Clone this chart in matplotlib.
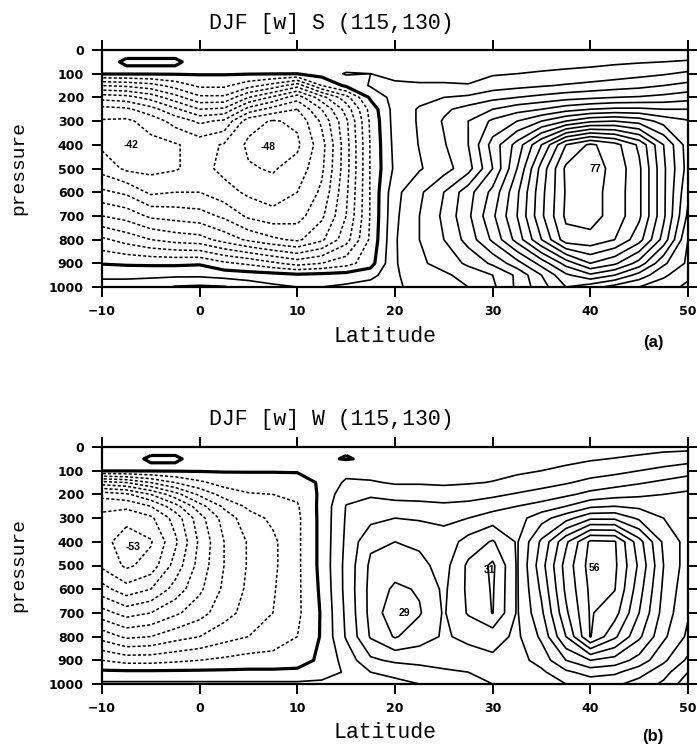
import numpy as np
import matplotlib.pyplot as plt

plt.rcParams['lines.dashed_pattern'] = [2.0, 1.4]

lats = [-10, -7.5, -5, -2.5, 0, 2.5, 5, 7.5, 10, 12.5, 15, 17.5, 20, 22.5,
        25, 27.5, 30, 32.5, 35, 37.5, 40, 42.5, 45, 47.5, 50]
pres = [0, 50, 100, 150, 200, 250, 300, 400, 500, 600, 700, 800, 900, 950, 1000]

# DJF [w] S: one list per latitude, values from 0 hPa down to 1000 hPa
w_s = [
    [0.5, 0.5, 0.4, -15, -28, -37, -40.5, -41, -37, -29, -20, -9, -0.3, 4, 7],
    [0.5, -0.2, 0.4, -14, -27, -36, -41, -42.5, -41, -31, -22, -12, -0.8, 4, 7],
    [0.5, -0.2, 0.4, -12, -23, -32, -38, -41.5, -41.5, -36, -26, -15, -1, 4, 8],
    [0.5, -0.2, 0.4, -8, -17, -26, -33, -40.5, -40.5, -35, -27, -17, -1, 4, 10.5],
    [0.5, 0.5, 0.4, -4, -11, -20, -29, -38, -38, -35, -28, -18, -0.6, 4, 11],
    [0.5, 0.5, 0.4, -4, -11, -21, -31, -40.5, -41.5, -38, -31, -22, -4, 3, 10.5],
    [0.5, 0.5, 0.3, -8, -20, -32, -43, -46, -44.5, -41, -36, -26, -6, 2.5, 8],
    [0.5, 0.5, 0.2, -12, -26, -37, -45.5, -48.5, -45.5, -43, -38, -29, -9, 2, 6],
    [0.5, 0.5, 0.1, -18, -33, -40, -44, -46, -43, -40, -37, -31, -12, 1, 5],
    [0.5, 0.5, 2, -5, -22, -30, -34, -37, -36, -34, -31, -26, -10, 1.5, 5],
    [0.5, 1, 5.5, 1, -12, -18, -21, -22, -22, -21, -20, -17, -7, 2, 6],
    [0.5, 1.5, 5, 5.5, 1, -3, -4, -4.5, -4.5, -4.5, -4.5, -4, -2, 3, 8],
    [0.5, 1.5, 3.5, 6, 7, 7, 7, 6.5, 6, 8.5, 9, 9.5, 9.5, 9.5, 9.5],
    [0.5, 1.5, 3.5, 5.5, 8.5, 10.5, 10.5, 10.2, 9.5, 14, 15, 15, 14, 12, 11],
    [0.5, 2, 3.5, 5.5, 10, 14, 15.5, 14.5, 13, 20, 21, 20, 17, 14, 12],
    [0.5, 2, 3.8, 5.2, 11, 17, 20, 20, 18, 28, 29, 27, 21, 17, 15],
    [1, 2.5, 4.5, 7.5, 13.5, 20, 26, 32, 30, 36.5, 39, 36, 26, 20, 19],
    [1, 3, 5, 8.5, 15, 23, 30, 42, 45, 49, 50, 47, 33, 26, 26],
    [1, 3.2, 5.5, 9.5, 16.5, 25, 35, 55, 62, 63.5, 64, 60, 42, 35, 33],
    [1, 3.5, 6, 10.5, 18, 28, 40, 70, 76, 75.5, 76, 73, 52, 44, 40],
    [1, 3.8, 6.5, 11.5, 19, 30, 44, 76, 77.5, 77, 77, 73.5, 60, 49, 37],
    [1, 4.2, 7.5, 12.5, 20, 31, 45, 72, 73.5, 73, 73, 70, 56, 45, 33],
    [1, 4.6, 8.5, 13.5, 20.5, 31, 43, 64, 66, 66, 66, 62, 48, 38, 30],
    [1, 5, 9.5, 15, 21.5, 30, 38, 50, 51, 51, 51, 48, 36, 31, 27],
    [1, 5.6, 11, 16.5, 23, 30, 35.5, 37.5, 38, 36, 34, 30, 29, 26, 24],
]

# DJF [w] W
w_w = [
    [0.5, 0.5, 0.4, -22, -38, -44, -46, -47.5, -46, -38, -28, -17, -5, 1, 6],
    [0.5, 0.5, 0.4, -20, -36, -44, -48, -53.5, -51, -43, -32, -21, -7, 1, 6],
    [0.5, -0.2, 0.4, -15, -30, -40, -46, -50.5, -48, -40, -30, -20, -7, 1, 6],
    [0.5, -0.2, 0.4, -10, -22, -32, -38, -41, -38, -33, -26, -17, -6, 1, 6],
    [0.5, 0.5, 0.4, -6, -14, -22, -27, -29, -28, -26, -22, -15, -5, 1, 6],
    [0.5, 0.5, 0.4, -3, -8, -14, -18, -20, -20, -19, -17, -12, -4, 1, 6],
    [0.5, 0.5, 0.3, -2, -5.5, -9, -12, -14.5, -14.5, -14, -13, -10, -3, 1, 6],
    [0.5, 0.5, 0.3, -2, -5, -7.5, -9, -11, -11, -10.5, -10, -8, -3, 1, 6],
    [0.5, 0.5, 0.3, -1.5, -4, -5.5, -6, -6, -6, -6, -6, -5, -2, 1, 6],
    [0.5, 0.5, 0.5, 0.5, 1, 1.5, 1.5, 1.5, 1.5, 1, 0.5, 0.5, 1, 3, 6],
    [0.5, -0.2, 3, 6, 8.5, 10.2, 10.5, 11, 11.5, 11.5, 11, 10.5, 7, 5.5, 6],
    [0.5, 0.5, 3, 5.5, 9.5, 11.5, 13.5, 19, 21, 21.5, 21.5, 20.5, 14, 10, 8],
    [0.5, 1, 3, 4.5, 8, 12, 15, 20, 22.5, 26, 28.8, 25.5, 16, 11, 9],
    [0.5, 1, 3, 4.5, 8, 11.5, 14.5, 19, 21.5, 24.5, 25.5, 22, 17, 12, 10],
    [0.5, 1.5, 3, 4.2, 7.5, 11, 14, 17, 18, 19, 19.5, 19.5, 17.5, 14, 11],
    [0.5, 1.5, 3.2, 4.6, 8, 11.5, 15, 22, 26, 26, 25.5, 21, 18, 15, 12],
    [0.5, 2, 3.5, 5.2, 9, 13, 17.5, 25.5, 31, 30.5, 30.2, 22, 19, 17, 15],
    [1, 2.5, 4.2, 6.5, 10.5, 15, 18, 19.5, 19.5, 19.5, 19.5, 19, 18, 17, 16],
    [1, 3, 5, 8, 12, 17, 23, 31, 33, 31, 29, 26, 22, 19, 17],
    [1.5, 3.8, 6, 9.5, 14, 20, 28, 44, 47, 46, 44, 40, 30, 24, 20],
    [2, 4.5, 7.5, 11.5, 16.5, 24, 34, 56, 57, 56, 55.5, 55.3, 35, 27, 22],
    [2.5, 5.2, 8.5, 13, 18, 25, 34, 55.5, 56, 55.2, 52, 46, 33, 26, 21],
    [3, 6, 10, 14.5, 19, 24, 29, 42, 44, 42, 40, 36, 28, 22, 18],
    [3.5, 7, 11.5, 16, 20, 23, 25, 29, 30, 29, 28, 26, 21, 17, 14],
    [3.5, 8, 13, 17.5, 21, 22.5, 23, 23, 22.5, 21.5, 20.5, 19, 14, 10, 7],
]

neg_levels = list(range(-50, 0, 5))
pos_levels = list(range(5, 80, 5))

# extreme values written on the maps
marks_s = ["-42", "-48", "77"]
marks_s_lat = [-7, 7, 40.5]
marks_s_p = [400, 410, 500]
marks_w = ["-53", "29", "31", "56"]
marks_w_lat = [-6.8, 21, 29.7, 40.4]
marks_w_p = [420, 700, 520, 510]

W, H = 697, 748
fig = plt.figure(figsize=(W / 100, H / 100), dpi=100)

tick_font = {'family': 'DejaVu Sans', 'weight': 'bold', 'size': 9}
mono = 'Liberation Mono'


def draw_panel(ax, cols, labels, mlat, mp):
    field = np.array(cols).T
    X, Y = np.meshgrid(lats, pres)
    ax.contour(X, Y, field, levels=neg_levels, colors='k',
               linewidths=1.1, linestyles='dashed')
    ax.contour(X, Y, field, levels=[0], colors='k', linewidths=2.3)
    ax.contour(X, Y, field, levels=pos_levels, colors='k', linewidths=1.2)
    for t, x, y in zip(labels, mlat, mp):
        ax.text(x, y, t, ha='center', va='center', fontsize=7.5,
                fontweight='bold', family='Liberation Sans')
    ax.set_xlim(-10, 50)
    ax.set_ylim(1000, 0)
    ax.set_xticks(range(-10, 51, 10))
    ax.set_yticks(range(0, 1001, 100))
    ax.tick_params(direction='out', length=7, width=1.4, top=True, right=True,
                   labeltop=False, labelright=False, pad=6)
    for lab in ax.get_xticklabels() + ax.get_yticklabels():
        lab.set_fontproperties(tick_font)
    for s in ax.spines.values():
        s.set_linewidth(1.6)


ax_a = fig.add_axes([102 / W, 1 - 287 / H, 586 / W, 237 / H])
draw_panel(ax_a, w_s, marks_s, marks_s_lat, marks_s_p)
ax_b = fig.add_axes([102 / W, 1 - 684 / H, 586 / W, 237 / H])
draw_panel(ax_b, w_w, marks_w, marks_w_lat, marks_w_p)

fig.text(331 / W, 1 - 24 / H, "DJF [w] S (115,130)", ha='center', va='center',
         family=mono, fontsize=15.5)
fig.text(331 / W, 1 - 420 / H, "DJF [w] W (115,130)", ha='center', va='center',
         family=mono, fontsize=15.5)
for yc in [168, 565]:
    fig.text(19 / W, 1 - yc / H, "pressure", rotation=90, ha='center', va='center',
             family=mono, fontsize=14)
for yc in [337, 733]:
    fig.text(385 / W, 1 - yc / H, "Latitude", ha='center', va='center',
             family=mono, fontsize=15.5)
fig.text(653 / W, 1 - 342 / H, "(a)", ha='center', va='center',
         family='Liberation Sans', fontweight='bold', fontsize=12)
fig.text(653 / W, 1 - 737 / H, "(b)", ha='center', va='center',
         family='Liberation Sans', fontweight='bold', fontsize=12)

fig.savefig("out.png", dpi=100)
